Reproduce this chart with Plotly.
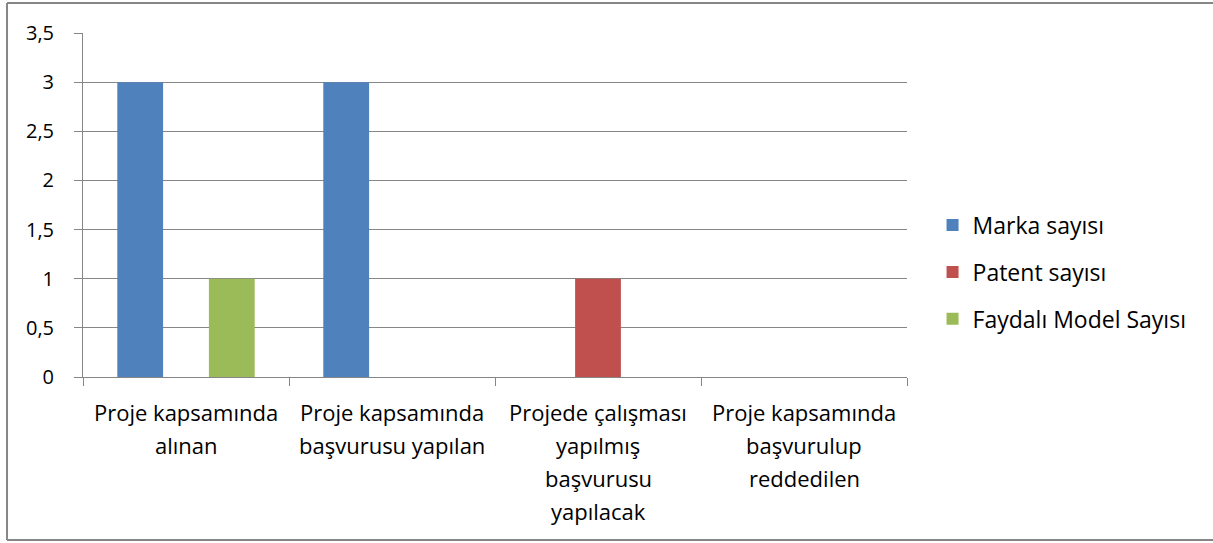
import plotly.graph_objects as go

categories = ["Proje kapsamında<br>alınan",
              "Proje kapsamında<br>başvurusu yapılan",
              "Projede çalışması<br>yapılmış<br>başvurusu<br>yapılacak",
              "Proje kapsamında<br>başvurulup<br>reddedilen"]
series_names = ["Marka sayısı", "Patent sayısı", "Faydalı Model Sayısı"]
marka = [3, 3, 0, 0]
patent = [0, 0, 1, 0]
faydali = [1, 0, 0, 0]
colors = ["#4F81BD", "#C0504D", "#9BBB59"]
y_ticks = [0, 0.5, 1, 1.5, 2, 2.5, 3, 3.5]

FONT = "Open Sans"
GRAY = "#868686"

n = len(categories)
fig = go.Figure()
for i, (name, vals) in enumerate(zip(series_names, [marka, patent, faydali])):
    fig.add_trace(go.Bar(x=list(range(n)), y=vals, name=name,
                         marker=dict(color=colors[i], line=dict(width=0)),
                         legendgroup=f"g{i}"))

# category labels, line by line
for ci, lab in enumerate(categories):
    for li, line in enumerate(lab.split("<br>")):
        fig.add_annotation(x=ci, y=0, xref="x", yref="paper", text=line,
                           showarrow=False, yanchor="middle", xanchor="center",
                           yshift=-(35 + 33 * li),
                           font=dict(family=FONT, size=22, color="#000000"))

# outer border (partial frame)
fig.add_shape(type="line", xref="paper", yref="paper", x0=-0.0922, x1=1.4, y0=1.0872, y1=1.0872,
              line=dict(color=GRAY, width=2))
fig.add_shape(type="line", xref="paper", yref="paper", x0=-0.0922, x1=-0.0922, y0=1.0872, y1=-0.4738,
              line=dict(color=GRAY, width=2))
fig.add_shape(type="line", xref="paper", yref="paper", x0=-0.0922, x1=1.4, y0=-0.4738, y1=-0.4738,
              line=dict(color=GRAY, width=2))

fig.update_layout(
    width=1213, height=543,
    margin=dict(l=83, r=306, t=33, b=166),
    paper_bgcolor="white", plot_bgcolor="white",
    barmode="group", bargap=0.333, bargroupgap=0,
    separators=",.",
    font=dict(family=FONT, size=21, color="#000000"),
    showlegend=True,
    legend=dict(x=1.031, y=0.305, xanchor="left", yanchor="middle",
                font=dict(family=FONT, size=23), tracegroupgap=14,
                itemwidth=30, bgcolor="rgba(0,0,0,0)"),
    xaxis=dict(range=[-0.5, n - 0.5], tickmode="array",
               tickvals=[k - 0.5 for k in range(n + 1)],
               showticklabels=False, ticks="outside",
               ticklen=8, tickcolor=GRAY, showline=True, linecolor=GRAY, linewidth=1,
               showgrid=False, zeroline=False, fixedrange=True),
    yaxis=dict(range=[0, 3.5], tickmode="array", tickvals=y_ticks,
               ticktext=[("%g" % v).replace(".", ",") for v in y_ticks],
               ticks="outside", ticklen=8, tickcolor=GRAY, ticklabelstandoff=16,
               showline=True, linecolor=GRAY, linewidth=1,
               showgrid=True, gridcolor=GRAY, gridwidth=1, zeroline=False,
               tickfont=dict(family=FONT, size=20)),
)

fig.write_html("out.html", config={"displayModeBar": False},
               post_script="document.body.style.margin='0px';")
